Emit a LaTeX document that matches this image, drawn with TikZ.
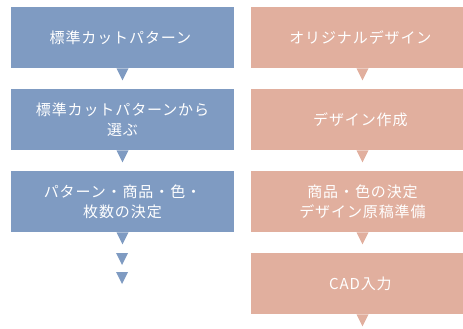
\documentclass[tikz,border=0pt]{standalone}
\usepackage{fontspec}
\setmainfont{Noto Sans CJK JP}[LetterSpace=6]
\usepackage{xcolor}
\definecolor{stdblue}{RGB}{127,155,194}
\definecolor{origsalmon}{RGB}{225,175,158}

\begin{document}
\begin{tikzpicture}[
    x=0.75pt,
    y=-0.75pt,
    font=\fontsize{11.25}{15}\selectfont,
    stepbox/.style={
        inner sep=0pt,
        minimum width=167.25pt,
        minimum height=45.75pt,
        align=center,
        text=white
    },
    leftbox/.style={
        stepbox,
        fill=stdblue
    },
    rightbox/.style={
        stepbox,
        fill=origsalmon
    }
]

\useasboundingbox (0,0) rectangle (463,328);

% Left column: standard cut pattern
\node[
    leftbox
] (std1) at (122.5,37.5) {
    標準カットパターン
};

\node[
    leftbox
] (std2) at (122.5,119.5) {
    標準カットパターンから\\
    選ぶ
};

\node[
    leftbox
] (std3) at (122.5,201.5) {
    パターン・商品・色・\\
    枚数の決定
};

\foreach \n in {std1,std2,std3}
    \fill[stdblue] (\n.south) ++(-6,0) -- ++(12,0) -- ++(-6,12) -- cycle;

% Left column: trailing pointers
\fill[
    stdblue
] (116,253) -- (128,253) -- (122,265) -- cycle;

\fill[
    stdblue
] (116,272) -- (128,272) -- (122,284) -- cycle;


% Right column: original design
\node[
    rightbox
] (orig1) at (362.5,37.5) {
    オリジナルデザイン
};

\node[
    rightbox
] (orig2) at (362.5,119.5) {
    デザイン作成
};

\node[
    rightbox
] (orig3) at (362.5,201.5) {
    商品・色の決定\\
    デザイン原稿準備
};

\node[
    rightbox
] (orig4) at (362.5,283.5) {
    CAD入力
};

\foreach \n in {orig1,orig2,orig3,orig4}
    \fill[origsalmon] (\n.south) ++(-6,0) -- ++(12,0) -- ++(-6,12) -- cycle;

\end{tikzpicture}
\end{document}
